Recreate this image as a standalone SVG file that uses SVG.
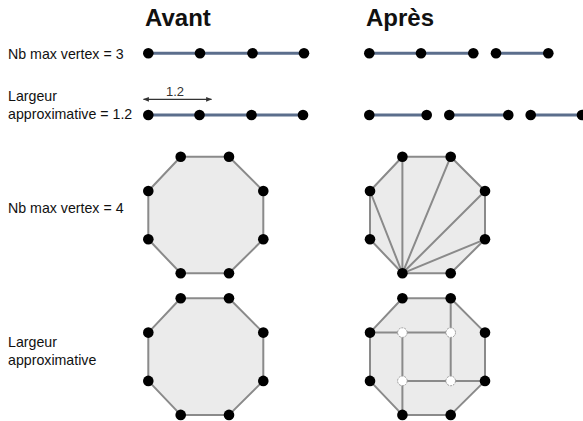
<svg xmlns="http://www.w3.org/2000/svg" width="583" height="421" viewBox="0 0 583 421">
  <style>
    .title { font-family: "Liberation Sans", Arial, sans-serif; font-weight: bold; font-size: 24px; fill: #111; }
    .label { font-family: "Liberation Sans", Arial, sans-serif; font-size: 14.2px; fill: #111; }
    .dim { font-family: "Liberation Sans", Arial, sans-serif; font-size: 13px; fill: #333; }
    .edge { stroke: #5b6e8c; stroke-width: 3; fill: none; }
    .v { fill: #000; }
    .vw { fill: #fff; stroke: #999; stroke-width: 1; stroke-dasharray: 2 1; }
    .poly { fill: #ebebeb; stroke: #8a8a8a; stroke-width: 2; stroke-linejoin: round; }
    .inner { stroke: #8a8a8a; stroke-width: 2; fill: none; }
    .arrow { stroke: #333; stroke-width: 1.2; fill: none; }
  </style>
  <defs>
    <marker id="ah" viewBox="0 0 10 10" refX="9" refY="5" markerWidth="6" markerHeight="6" orient="auto-start-reverse" markerUnits="userSpaceOnUse">
      <path d="M0,1 L10,5 L0,9 z" fill="#333"/>
    </marker>
    <circle id="dot" r="5.3" class="v"/>
    <polygon id="oct" class="poly" points="180.7,0 229,0 263.3,34.3 263.3,82.6 229,116.6 180.7,116.6 148.3,82.6 148.3,34.3"/>
  </defs>
  <rect width="583" height="421" fill="#fff"/>

  <!-- column headings -->
  <g id="headings">
    <text class="title" x="145" y="26">Avant</text>
    <text class="title" x="366" y="26">Après</text>
  </g>

  <!-- row labels -->
  <g id="labels">
    <text class="label" x="8" y="58.5">Nb max vertex = 3</text>
    <text class="label" x="8" y="100.5">Largeur</text>
    <text class="label" x="8" y="118.5">approximative = 1.2</text>
    <text class="label" x="8" y="212.5">Nb max vertex = 4</text>
    <text class="label" x="8" y="347">Largeur</text>
    <text class="label" x="8" y="364.5">approximative</text>
  </g>

  <!-- connectors -->
  <g id="connectors">
    <!-- row 1 -->
    <line class="edge" x1="148.3" y1="53.3" x2="304" y2="53.3"/>
    <line class="edge" x1="369.3" y1="53.3" x2="473.3" y2="53.3"/>
    <line class="edge" x1="496" y1="53.3" x2="548.3" y2="53.3"/>
    <!-- row 2 -->
    <line class="edge" x1="148.3" y1="115" x2="303" y2="115"/>
    <line class="edge" x1="369.3" y1="115" x2="426.7" y2="115"/>
    <line class="edge" x1="449.3" y1="115" x2="508.3" y2="115"/>
    <line class="edge" x1="530.7" y1="115" x2="583" y2="115"/>
    <!-- width dimension -->
    <line class="arrow" x1="143.5" y1="99.3" x2="211.5" y2="99.3" marker-start="url(#ah)" marker-end="url(#ah)"/>
  </g>
  <text class="dim" x="175" y="95.5" text-anchor="middle">1.2</text>

  <!-- polyline vertices -->
  <g id="row1-before">
    <use href="#dot" x="148.3" y="53.3"/>
    <use href="#dot" x="200" y="53.3"/>
    <use href="#dot" x="252.5" y="53.3"/>
    <use href="#dot" x="304" y="53.3"/>
  </g>
  <g id="row1-after">
    <use href="#dot" x="369.3" y="53.3"/>
    <use href="#dot" x="421" y="53.3"/>
    <use href="#dot" x="473.3" y="53.3"/>
    <use href="#dot" x="496" y="53.3"/>
    <use href="#dot" x="548.3" y="53.3"/>
  </g>
  <g id="row2-before">
    <use href="#dot" x="148.3" y="115"/>
    <use href="#dot" x="199.5" y="115"/>
    <use href="#dot" x="251.5" y="115"/>
    <use href="#dot" x="303" y="115"/>
  </g>
  <g id="row2-after">
    <use href="#dot" x="369.3" y="115"/>
    <use href="#dot" x="426.7" y="115"/>
    <use href="#dot" x="449.3" y="115"/>
    <use href="#dot" x="508.3" y="115"/>
    <use href="#dot" x="530.7" y="115"/>
    <use href="#dot" x="582" y="115"/>
  </g>

  <!-- octagon, row 3 before -->
  <g id="oct3-before" transform="translate(0,156.7)">
    <use href="#oct"/>
    <use href="#dot" x="180.7" y="0"/><use href="#dot" x="229" y="0"/>
    <use href="#dot" x="263.3" y="34.3"/><use href="#dot" x="263.3" y="82.6"/>
    <use href="#dot" x="229" y="116.6"/><use href="#dot" x="180.7" y="116.6"/>
    <use href="#dot" x="148.3" y="82.6"/><use href="#dot" x="148.3" y="34.3"/>
  </g>

  <!-- octagon, row 3 after: fan triangulation -->
  <g id="oct3-after" transform="translate(221.7,156.7)">
    <use href="#oct"/>
    <path class="inner" d="M180.7,116.6 L148.3,34.3 M180.7,116.6 L180.7,0 M180.7,116.6 L229,0 M180.7,116.6 L263.3,34.3 M180.7,116.6 L263.3,82.6"/>
    <use href="#dot" x="180.7" y="0"/><use href="#dot" x="229" y="0"/>
    <use href="#dot" x="263.3" y="34.3"/><use href="#dot" x="263.3" y="82.6"/>
    <use href="#dot" x="229" y="116.6"/><use href="#dot" x="180.7" y="116.6"/>
    <use href="#dot" x="148.3" y="82.6"/><use href="#dot" x="148.3" y="34.3"/>
  </g>

  <!-- octagon, row 4 before -->
  <g id="oct4-before" transform="translate(0,298.3)">
    <use href="#oct"/>
    <use href="#dot" x="180.7" y="0"/><use href="#dot" x="229" y="0"/>
    <use href="#dot" x="263.3" y="34.3"/><use href="#dot" x="263.3" y="82.6"/>
    <use href="#dot" x="229" y="116.6"/><use href="#dot" x="180.7" y="116.6"/>
    <use href="#dot" x="148.3" y="82.6"/><use href="#dot" x="148.3" y="34.3"/>
  </g>

  <!-- octagon, row 4 after: pinwheel split with inner vertices -->
  <g id="oct4-after" transform="translate(221.7,298.3)">
    <use href="#oct"/>
    <path class="inner" d="M148.3,34.3 L229,34.3 M229,0 L229,82.6 M180.7,82.6 L263.3,82.6 M180.7,34.3 L180.7,116.6"/>
    <use href="#dot" x="180.7" y="0"/><use href="#dot" x="229" y="0"/>
    <use href="#dot" x="263.3" y="34.3"/><use href="#dot" x="263.3" y="82.6"/>
    <use href="#dot" x="229" y="116.6"/><use href="#dot" x="180.7" y="116.6"/>
    <use href="#dot" x="148.3" y="82.6"/><use href="#dot" x="148.3" y="34.3"/>
    <circle class="vw" cx="180.7" cy="34.3" r="4.8"/>
    <circle class="vw" cx="229" cy="34.3" r="4.8"/>
    <circle class="vw" cx="180.7" cy="82.6" r="4.8"/>
    <circle class="vw" cx="229" cy="82.6" r="4.8"/>
  </g>
</svg>
